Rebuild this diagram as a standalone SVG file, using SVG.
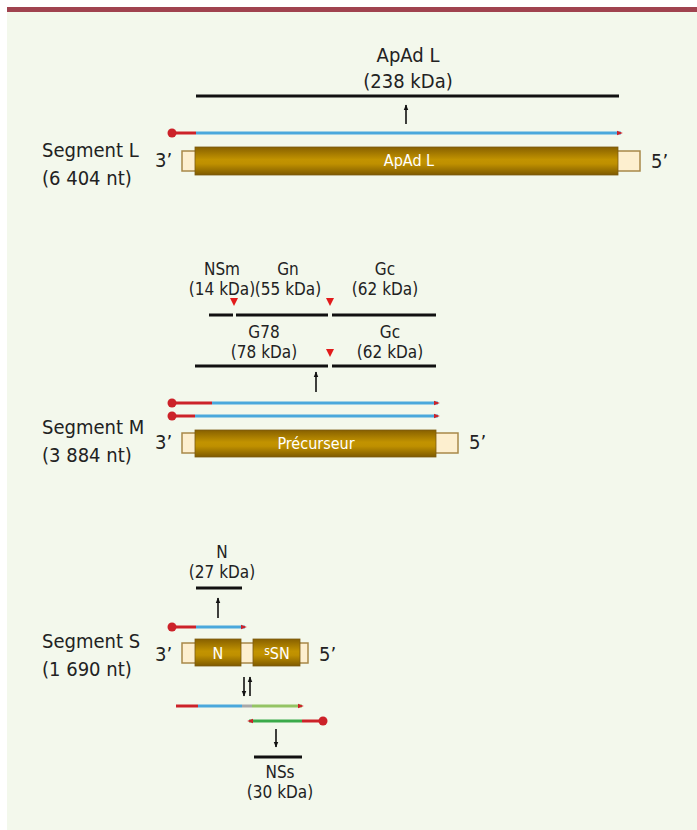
<svg xmlns="http://www.w3.org/2000/svg" width="697" height="830" viewBox="0 0 697 830">
<defs>
<linearGradient id="bar" x1="0" y1="0" x2="0" y2="1">
<stop offset="0" stop-color="#876000"/>
<stop offset="0.45" stop-color="#c29300"/>
<stop offset="0.6" stop-color="#bf9000"/>
<stop offset="1" stop-color="#7e5a00"/>
</linearGradient>
<marker id="ah" viewBox="0 0 10 10" refX="7" refY="5" markerWidth="6" markerHeight="6" markerUnits="userSpaceOnUse" orient="auto">
<path d="M0,1 L10,5 L0,9 z" fill="#cc2229"/>
</marker>
<marker id="bk" viewBox="0 0 10 10" refX="9" refY="5" markerWidth="6" markerHeight="6" markerUnits="userSpaceOnUse" orient="auto">
<path d="M0,1 L10,5 L0,9 z" fill="#111"/>
</marker>
</defs>
<style>
text{font-family:"DejaVu Sans Condensed","DejaVu Sans",sans-serif;fill:#222;font-stretch:condensed}
.lab{font-size:17px;text-anchor:middle}
.big{font-size:20px;text-anchor:middle}
.seg{font-size:20px}
.end{font-size:20px}
.w{fill:#fff;font-size:16px;text-anchor:middle}
.prot{stroke:#111;stroke-width:3;fill:none}
.red{stroke:#cc2229;stroke-width:3;fill:none}
.blue{stroke:#4aa8dc;stroke-width:3;fill:none}
.cream{fill:#fdefcf;stroke:#a88848;stroke-width:1.5}
.brown{fill:url(#bar);stroke:#7a5a10;stroke-width:0.8}
.arr{stroke:#111;stroke-width:1.6;fill:none;marker-end:url(#bk)}
.tri{fill:#e21b1b}
</style>
<rect x="0" y="0" width="697" height="830" fill="#fff"/>
<rect x="7" y="12" width="690" height="818" fill="#f3f8ec"/>
<rect x="7" y="7" width="690" height="5" fill="#a0434f"/>

<g id="segL">
<text class="seg" x="42" y="157">Segment L</text>
<text class="seg" x="42" y="185">(6 404 nt)</text>
<text class="end" x="155" y="167">3’</text>
<text class="end" x="651" y="168">5’</text>
<rect class="cream" x="182" y="151" width="15" height="20"/>
<rect class="cream" x="616" y="151" width="24" height="20"/>
<rect class="brown" x="195" y="147" width="423" height="28"/>
<text class="w" x="409" y="166">ApAd L</text>
</g>
<g id="protL">
<text class="big" x="408" y="62">ApAd L</text>
<text class="big" x="408" y="88">(238 kDa)</text>
<line class="prot" x1="196" y1="96" x2="619" y2="96"/>
</g>

<g id="segM">
<text class="seg" x="42" y="434">Segment M</text>
<text class="seg" x="42" y="462">(3 884 nt)</text>
<text class="end" x="155" y="449">3’</text>
<text class="end" x="469" y="449">5’</text>
<rect class="cream" x="182" y="433" width="15" height="20"/>
<rect class="cream" x="434" y="433" width="24" height="20"/>
<rect class="brown" x="195" y="430" width="241" height="27"/>
<text class="w" x="316" y="449">Précurseur</text>
</g>
<g id="protM1">
<text class="lab" x="222" y="275">NSm</text>
<text class="lab" x="222" y="295">(14 kDa)</text>
<text class="lab" x="288" y="275">Gn</text>
<text class="lab" x="288" y="295">(55 kDa)</text>
<text class="lab" x="385" y="275">Gc</text>
<text class="lab" x="385" y="295">(62 kDa)</text>
<line class="prot" x1="209" y1="315" x2="233" y2="315"/>
<line class="prot" x1="236" y1="315" x2="328" y2="315"/>
<line class="prot" x1="332" y1="315" x2="436" y2="315"/>
<path class="tri" d="M230,298 L238,298 L234,306 z"/>
<path class="tri" d="M326,298 L334,298 L330,306 z"/>
</g>
<g id="protM2">
<text class="lab" x="264" y="338">G78</text>
<text class="lab" x="264" y="358">(78 kDa)</text>
<text class="lab" x="390" y="338">Gc</text>
<text class="lab" x="390" y="358">(62 kDa)</text>
<line class="prot" x1="195" y1="366" x2="328" y2="366"/>
<line class="prot" x1="332" y1="366" x2="436" y2="366"/>
<path class="tri" d="M326,349 L334,349 L330,357 z"/>
</g>

<g id="segS">
<text class="seg" x="42" y="648">Segment S</text>
<text class="seg" x="42" y="676">(1 690 nt)</text>
<text class="end" x="155" y="661">3’</text>
<text class="end" x="319" y="661">5’</text>
<rect class="cream" x="182" y="643" width="126" height="20"/>
<rect class="brown" x="195" y="639" width="46" height="27"/>
<rect class="brown" x="253" y="639" width="47" height="27"/>
<text class="w" x="218" y="659">N</text>
<text class="w" x="277" y="659"><tspan font-size="12" dy="-4">s</tspan><tspan dy="4">SN</tspan></text>
</g>
<g id="protN">
<text class="lab" x="222" y="558">N</text>
<text class="lab" x="222" y="578">(27 kDa)</text>
<line class="prot" x1="196" y1="588" x2="242" y2="588"/>
</g>
<g id="protNSs">
<text class="lab" x="280" y="778">NSs</text>
<text class="lab" x="280" y="798">(30 kDa)</text>
<line class="prot" x1="254" y1="757" x2="302" y2="757"/>
</g>

<g id="connectors">
<line class="red" x1="172" y1="133" x2="196" y2="133"/>
<circle cx="172" cy="133" r="4.5" fill="#cc2229"/>
<line class="blue" x1="196" y1="133" x2="621" y2="133" marker-end="url(#ah)"/>
<line class="arr" x1="406" y1="124" x2="406" y2="105"/>
<line class="red" x1="172" y1="403" x2="212" y2="403"/>
<circle cx="172" cy="403" r="4.5" fill="#cc2229"/>
<line class="blue" x1="212" y1="403" x2="438" y2="403" marker-end="url(#ah)"/>
<line class="red" x1="172" y1="416" x2="195" y2="416"/>
<circle cx="172" cy="416" r="4.5" fill="#cc2229"/>
<line class="blue" x1="195" y1="416" x2="438" y2="416" marker-end="url(#ah)"/>
<line class="arr" x1="316" y1="392" x2="316" y2="372"/>
<line class="red" x1="172" y1="627" x2="196" y2="627"/>
<circle cx="172" cy="627" r="4.5" fill="#cc2229"/>
<line class="blue" x1="196" y1="627" x2="245" y2="627" marker-end="url(#ah)"/>
<line class="arr" x1="218" y1="618" x2="218" y2="598"/>
<line class="arr" x1="244" y1="677" x2="244" y2="696"/>
<line class="arr" x1="250" y1="696" x2="250" y2="677"/>
<line class="red" x1="176" y1="706" x2="198" y2="706"/>
<line class="blue" x1="198" y1="706" x2="242" y2="706"/>
<line stroke="#a8a8a8" stroke-width="3" x1="242" y1="706" x2="252" y2="706"/>
<line stroke="#94c464" stroke-width="3" x1="252" y1="706" x2="302" y2="706" marker-end="url(#ah)"/>
<line class="red" x1="302" y1="721" x2="323" y2="721"/>
<circle cx="323" cy="721" r="4.5" fill="#cc2229"/>
<line stroke="#3aaa4a" stroke-width="3" x1="302" y1="721" x2="249" y2="721" marker-end="url(#ah)"/>
<line class="arr" x1="276" y1="729" x2="276" y2="747"/>
</g>
</svg>
